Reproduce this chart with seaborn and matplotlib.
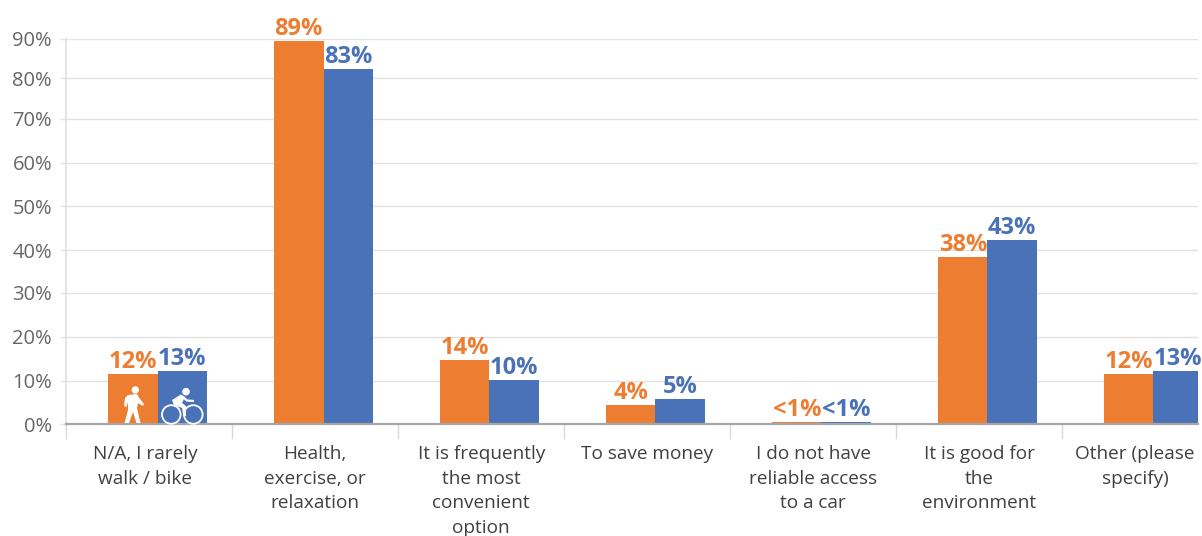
import numpy as np
import pandas as pd
import seaborn as sns
import matplotlib
matplotlib.use("Agg")
import matplotlib.pyplot as plt
from matplotlib.patches import Circle, Polygon
from matplotlib.lines import Line2D

categories = ["N/A, I rarely\nwalk / bike", "Health,\nexercise, or\nrelaxation",
              "It is frequently\nthe most\nconvenient\noption", "To save money",
              "I do not have\nreliable access\nto a car", "It is good for\nthe\nenvironment",
              "Other (please\nspecify)"]
walk_values = [11.5, 89.4, 14.7, 4.4, 0.5, 38.3, 11.5]
bike_values = [12.2, 82.3, 10.3, 5.7, 0.5, 42.3, 12.2]
walk_labels = ["12%", "89%", "14%", "4%", "<1%", "38%", "12%"]
bike_labels = ["13%", "83%", "10%", "5%", "<1%", "43%", "13%"]
tick_values = [0, 10, 20, 30, 40, 50, 60, 70, 80, 90]
# the reference's axis is not evenly spaced: position of each gridline (pixels above the baseline)
tick_heights = [0, 43, 87, 131, 174, 218, 261, 305, 346, 385.5]

ORANGE, BLUE = "#ED7D31", "#4A72B8"
W, H = 1202, 536
RIGHT = 1198
sns.set_theme(style="white")
plt.rcParams["font.family"] = ["Open Sans", "DejaVu Sans"]

df = pd.DataFrame({"cat": categories * 2,
                   "value": walk_values + bike_values,
                   "mode": ["Walk"] * 7 + ["Bike"] * 7})

fig = plt.figure(figsize=(W / 100, H / 100), dpi=100)
ax = fig.add_axes([66 / W, 1 - 424 / H, (RIGHT - 66) / W, 385.5 / H])
sns.barplot(data=df, x="cat", y="value", hue="mode", order=categories,
            hue_order=["Walk", "Bike"], palette=[ORANGE, BLUE], width=0.596, gap=0,
            saturation=1, legend=False, ax=ax, zorder=3, errorbar=None, linewidth=0)

ax.set_yscale("function", functions=(lambda v: np.interp(v, tick_values, tick_heights),
                                     lambda h: np.interp(h, tick_heights, tick_values)))
ax.set_ylim(0, 90)
ax.set_yticks(tick_values, [f"{t}%" for t in tick_values])
ax.yaxis.set_minor_locator(matplotlib.ticker.NullLocator())
x_left = -(157.5 - 66) / 166
ax.set_xlim(x_left, x_left + (RIGHT - 66) / 166)
# last label moved slightly left so that it stays whole inside the picture
ax.set_xticks([-0.075, 0.95, 1.95, 2.95, 3.95, 4.95, 5.89], categories)
ax.set_xticks([x_left + i for i in range(7)], minor=True)
ax.set_xlabel("")
ax.set_ylabel("")
ax.grid(axis="y", color="#E2E2E2", lw=1, zorder=0)
ax.set_axisbelow(True)
ax.tick_params(axis="x", which="major", length=0, pad=15, labelsize=13.7, labelcolor="#404040")
ax.tick_params(axis="x", which="minor", length=11, width=1, color="#D9D9D9", bottom=True)
ax.tick_params(axis="y", length=4, width=1, color="#E2E2E2", pad=6, labelsize=14.5,
               labelcolor="#666666", left=True)
for lab in ax.get_xticklabels():
    lab.set_linespacing(1.48)
for s in ("top", "right"):
    ax.spines[s].set_visible(False)
ax.spines["left"].set_color("#E0E0E0")
ax.spines["bottom"].set_color("#A6A6A6")
ax.spines["bottom"].set_linewidth(1.6)
ax.spines["bottom"].set_zorder(5)

for cont, labels, col in zip(ax.containers, [walk_labels, bike_labels], [ORANGE, BLUE]):
    ax.bar_label(cont, labels=labels, padding=0, color=col, fontsize=17, fontweight="bold",
                 clip_on=False)

# pictograms on the first pair of bars, in pixels
def P(x, y):
    return (x / W, 1 - y / H)

def line(pts, lw):
    fig.add_artist(Line2D([P(*p)[0] for p in pts], [P(*p)[1] for p in pts], color="white",
                          lw=lw, solid_capstyle="round", solid_joinstyle="round", zorder=6))

def circ(x, y, r, fill=True, lw=1.0):
    fig.add_artist(Circle((x, H - y), r, transform=matplotlib.transforms.IdentityTransform(),
                          facecolor="white" if fill else "none", edgecolor="white", lw=lw, zorder=6))

# walker
circ(135.3, 390, 3)
fig.add_artist(Polygon([P(*p) for p in [(128, 395), (137, 394), (140, 399), (144, 404), (143, 406),
                                        (138, 403), (137, 408), (140.5, 423), (136.5, 423),
                                        (133, 412), (129, 423), (124.5, 423), (128, 410),
                                        (128, 402), (126.5, 407), (124, 406), (125, 398)]],
                       closed=True, facecolor="white", edgecolor="none", zorder=6,
                       transform=fig.transFigure))
# cyclist
circ(171.3, 414.5, 9.3, fill=False, lw=1.3)
circ(193.3, 414.5, 9.3, fill=False, lw=1.3)
circ(186, 391.7, 3.1)
fig.add_artist(Polygon([P(*p) for p in [(172, 400), (181, 394.5), (185, 397), (182, 403), (186, 406),
                                        (186, 416), (183.5, 416), (182, 408), (174, 405)]],
                       closed=True, facecolor="white", edgecolor="none", zorder=6,
                       transform=fig.transFigure))
line([(184, 398), (187, 400.5), (193, 401)], 1.6)
fig.savefig("out.png", dpi=100)
